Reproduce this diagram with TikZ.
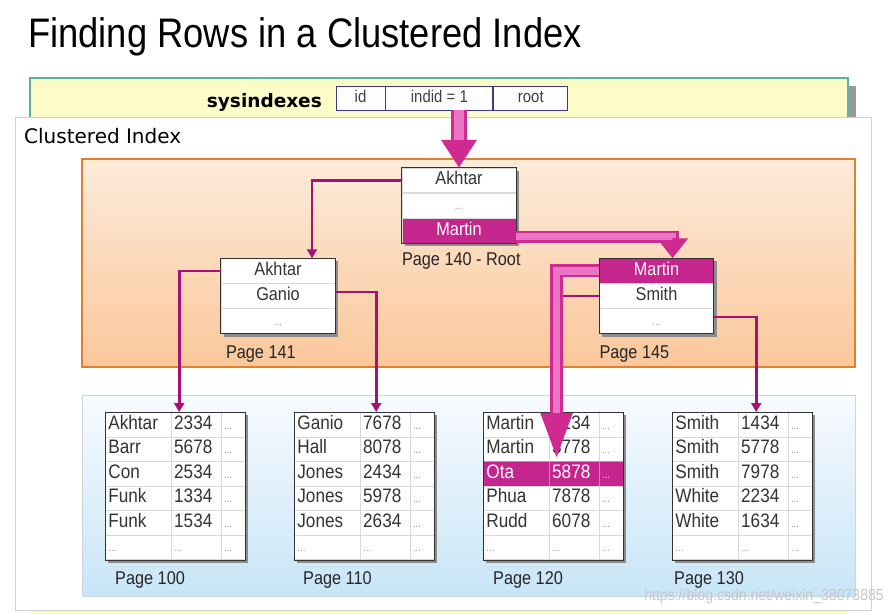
\documentclass[tikz,border=0pt]{standalone}
\usepackage{fontspec}
\setmainfont{Liberation Sans}[FakeStretch=0.88]
\newfontfamily\vfont{DejaVu Sans}
\usetikzlibrary{positioning,calc,arrows.meta,matrix}
\pgfdeclarelayer{back}
\pgfdeclarelayer{mid}
\pgfsetlayers{back,mid,main}

\definecolor{hilite}{HTML}{C4268E}
\definecolor{linkc}{HTML}{A81078}
\definecolor{fatdark}{HTML}{CE2A90}
\definecolor{fatlight}{HTML}{EC74C4}
\definecolor{bandyel}{HTML}{FCFCC8}
\definecolor{bandedge}{HTML}{5AB5A0}
\definecolor{orgtop}{HTML}{FDEBDA}
\definecolor{orgbot}{HTML}{FAC79A}
\definecolor{orgedge}{HTML}{E0802E}
\definecolor{blutop}{HTML}{F7FBFE}
\definecolor{blubot}{HTML}{C8E5F7}
\definecolor{bluedge}{HTML}{C9D6DE}
\definecolor{hdredge}{HTML}{3A3A8A}

\newcommand{\ellip}{{\fontsize{11}{11}\selectfont...}}

\tikzset{
  keyrow/.style={draw=black!15, fill=white, minimum width=114pt, minimum height=24.7pt,
    inner sep=0pt, text height=13pt, text depth=4pt, font=\fontsize{18.5}{18.5}\selectfont, text=black!80},
  keyhit/.style={keyrow, fill=hilite, text=white},
  dotrow/.style={keyrow, text=black!40},
  pageframe/.style={draw=black!80, line width=1pt},
  pagelbl/.style={inner sep=0pt, font=\fontsize{18.5}{18.5}\selectfont, text=black!85},
  hcell/.style={draw=hdredge, fill=white, line width=0.9pt, minimum height=24pt, inner sep=0pt,
    text height=12pt, text depth=3pt, font=\fontsize{17}{17}\selectfont, text=black!75},
  link/.style={draw=linkc, line width=2.6pt, -{Triangle[length=9pt,width=10pt]}},
  fatlink/.style n args={3}{draw=fatdark, line width=#1, line join=miter,
    -{Triangle[length=#2,width=#3]},
    postaction={draw=fatlight, line width=#1/1.7, -, shorten >=#2}},
  leaf/.style={matrix of nodes, anchor=north west, inner sep=0pt,
    row sep=-0.6pt, column sep=-0.6pt,
    nodes={draw=black!15, fill=white, minimum height=24.7pt, inner sep=3pt, align=left,
      text height=13pt, text depth=4pt, font=\fontsize{19.5}{19.5}\selectfont, text=black!80},
    column 1/.style={nodes={text width=60pt}},
    column 2/.style={nodes={text width=44pt}},
    column 3/.style={nodes={text width=18pt, text=black!45}},
    row 6/.style={nodes={text=black!40}}},
  leafhit/.style={nodes={fill=hilite, draw=hilite!60!white, text=white}}
}

\begin{document}
\begin{tikzpicture}[x=1pt, y=-1pt]
\useasboundingbox (0,0) rectangle (892,614);

% title and sysindexes row
\node[anchor=base west, inner sep=0pt, font=\fontsize{41.3}{41.3}\selectfont] (title) at (28,47)
  {Finding Rows in a Clustered Index};
\node[anchor=base east, inner sep=0pt, font=\vfont\bfseries\fontsize{18.5}{18.5}\selectfont] (sysidx)
  at (322,107) {sysindexes};
\node[hcell, minimum width=49pt] (hid) at (360.5,98) {id};
\node[hcell, minimum width=107pt, right=0pt of hid] (hindid) {indid = 1};
\node[hcell, minimum width=74pt, right=0pt of hindid] (hroot) {root};
\node[anchor=base west, inner sep=0pt, font=\vfont\fontsize{20}{20}\selectfont] (cilbl) at (24,143)
  {Clustered Index};

% non-leaf pages
\node[keyrow] (root-1) at (459,180.3) {Akhtar};
\node[dotrow, below=0pt of root-1] (root-2) {\ellip};
\node[keyhit, below=0pt of root-2] (root-3) {Martin};
\node[pagelbl, below right=9pt and 0pt of root-3.south west] (lbl140) {Page 140 - Root};

\node[keyrow] (p141-1) at (278,270.8) {Akhtar};
\node[keyrow, below=0pt of p141-1] (p141-2) {Ganio};
\node[dotrow, below=0pt of p141-2] (p141-3) {\ellip};
\node[pagelbl, below right=12pt and 5pt of p141-3.south west] (lbl141) {Page 141};

\node[keyhit] (p145-1) at (656.5,270.8) {Martin};
\node[keyrow, below=0pt of p145-1] (p145-2) {Smith};
\node[dotrow, below=0pt of p145-2] (p145-3) {\ellip};
\node[pagelbl, below right=12pt and 0pt of p145-3.south west] (lbl145) {Page 145};

% leaf pages
\matrix[leaf] (p100) at (105,412) {
Akhtar & 2334 & \ellip \\
Barr & 5678 & \ellip \\
Con & 2534 & \ellip \\
Funk & 1334 & \ellip \\
Funk & 1534 & \ellip \\
\ellip & \ellip & \ellip \\
};
\matrix[leaf] (p110) at (294,412) {
Ganio & 7678 & \ellip \\
Hall & 8078 & \ellip \\
Jones & 2434 & \ellip \\
Jones & 5978 & \ellip \\
Jones & 2634 & \ellip \\
\ellip & \ellip & \ellip \\
};
\matrix[leaf, row 3/.style={leafhit}] (p120) at (483,412) {
Martin & 1234 & \ellip \\
Martin & 3778 & \ellip \\
Ota & 5878 & \ellip \\
Phua & 7878 & \ellip \\
Rudd & 6078 & \ellip \\
\ellip & \ellip & \ellip \\
};
\matrix[leaf] (p130) at (672,412) {
Smith & 1434 & \ellip \\
Smith & 5778 & \ellip \\
Smith & 7978 & \ellip \\
White & 2234 & \ellip \\
White & 1634 & \ellip \\
\ellip & \ellip & \ellip \\
};
\node[pagelbl, below right=11pt and 10pt of p100.south west] (lbl100) {Page 100};
\node[pagelbl, below right=11pt and 9pt of p110.south west] (lbl110) {Page 110};
\node[pagelbl, below right=11pt and 10pt of p120.south west] (lbl120) {Page 120};
\node[pagelbl, below right=11pt and 2pt of p130.south west] (lbl130) {Page 130};

% frames
\draw[pageframe] (root-1.north west) rectangle (root-3.south east);
\draw[pageframe] (p141-1.north west) rectangle (p141-3.south east);
\draw[pageframe] (p145-1.north west) rectangle (p145-3.south east);
\foreach \p in {p100,p110,p120,p130}
  \draw[pageframe] (\p.north west) rectangle (\p.south east);

% pointers
\draw[link] (root-1.west) -| ([xshift=34pt]p141-1.north);
\draw[link] (p141-1.west) -| ([xshift=4pt]p100.north);
\draw[link] ([yshift=4pt]p141-2.east) -| ([xshift=12pt]p110.north);
\draw[link] (p145-2.west) -| ([xshift=4pt]p120.north);
\draw[link] ([yshift=4pt]p145-3.east) -| ([xshift=14pt]p130.north);

\draw[fatlink={16pt}{28pt}{34pt}] (root-1.north |- hindid.south) -- (root-1.north);
\draw[fatlink={12pt}{20pt}{30pt}] ([yshift=-6pt]root-3.east) -| ([xshift=16pt]p145-1.north);
\draw[fatlink={13pt}{48pt}{28pt}] (p145-1.west) -| ($(p120-3-1.north east)+(7,0)$);

\node[anchor=base east, inner sep=0pt, font=\fontsize{16}{16}\selectfont, text=black!22] (wmark)
  at (884,600) {https://blog.csdn.net/weixin\_38073885};

% panels and shadows
\begin{pgfonlayer}{back}
\fill[bandyel] (30,78) rectangle (848,614);
\draw[bandedge, line width=1.2pt] (30,117) -- (30,78) -- (848,78) -- (848,117);
\fill[black!40] (849,86) rectangle (856,117);
\draw[black!18, fill=white] (15,117) rectangle (871,610);
\draw[orgedge, top color=orgtop, bottom color=orgbot, line width=1.4pt] (82,159) rectangle (855,367);
\draw[bluedge, top color=blutop, bottom color=blubot] (82,395) rectangle (855,596);
\end{pgfonlayer}
\begin{pgfonlayer}{mid}
\fill[black!45] ([shift={(3,3)}]root-1.north west) rectangle ([shift={(3,3)}]root-3.south east);
\fill[black!45] ([shift={(3,3)}]p141-1.north west) rectangle ([shift={(3,3)}]p141-3.south east);
\fill[black!45] ([shift={(3,3)}]p145-1.north west) rectangle ([shift={(3,3)}]p145-3.south east);
\foreach \p in {p100,p110,p120,p130}
  \fill[black!45] ([shift={(3,3)}]\p.north west) rectangle ([shift={(3,3)}]\p.south east);
\end{pgfonlayer}
\end{tikzpicture}
\end{document}
